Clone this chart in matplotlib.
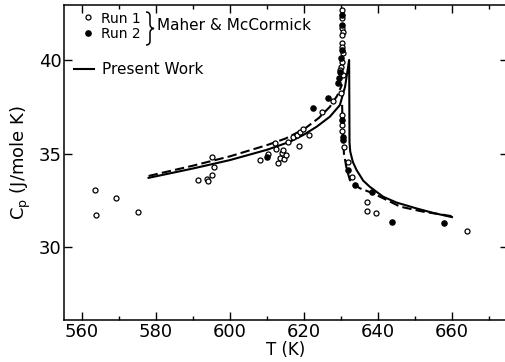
import matplotlib
matplotlib.use("Agg")
import matplotlib.pyplot as plt
from matplotlib.ticker import MultipleLocator
from matplotlib.path import Path
from matplotlib.patches import PathPatch

# Run 1 (open circles), Maher & McCormick
run1_T = [563.5, 563.7, 569.3, 575.0, 591.3, 593.7, 594.1, 595.0, 595.2, 595.8,
          608.1, 610.4, 612.2, 612.4, 613.1, 613.5, 614.0, 614.4, 614.6, 615.1,
          615.7, 617.1, 618.0, 618.9, 619.8, 618.7, 621.4, 624.8, 627.9, 629.9,
          630.2, 630.2, 630.4, 630.6, 630.4, 630.2, 630.4, 630.6, 630.4, 629.9,
          630.6, 629.6,
          630.4, 630.4, 630.4, 630.8, 631.8, 632.9,
          636.9, 636.9, 639.4, 664.1]
run1_Cp = [33.03, 31.69, 32.64, 31.85, 33.58, 33.65, 33.55, 33.85, 34.80, 34.29,
           34.65, 34.96, 35.55, 35.22, 34.47, 34.74, 35.01, 35.19, 34.69, 34.92,
           35.62, 35.90, 35.99, 36.17, 36.29, 35.40, 35.99, 37.24, 37.82, 38.25,
           42.67, 42.25, 41.71, 41.50, 41.34, 40.91, 40.70, 40.37, 39.89, 39.63,
           39.20, 39.45,
           37.06, 36.52, 36.22, 35.36, 34.53, 33.76,
           32.39, 31.91, 31.80, 30.87]

# Run 2 (filled circles)
run2_T = [610.1, 622.5, 626.6, 629.3, 629.4,
          630.2, 630.4, 630.2, 630.0, 629.8,
          630.3, 630.6, 630.6, 632.0, 633.8, 638.5, 643.9, 657.9]
run2_Cp = [34.83, 37.45, 37.98, 38.75, 39.05,
           42.41, 41.87, 40.53, 40.11, 39.36,
           36.79, 35.90, 35.72, 34.12, 33.32, 32.95, 31.34, 31.30]

# Present Work (solid)
work_T = [578.0, 590.0, 600.0, 610.0, 616.2, 619.8, 623.4, 627.0, 629.7, 631.1,
          632.2, 632.3, 632.5, 633.2, 634.2, 636.0, 637.8, 641.4, 645.0, 650.5,
          655.0, 660.0]
work_Cp = [33.70, 34.20, 34.65, 35.20, 35.63, 35.99, 36.43, 36.97, 37.59, 38.57,
           40.00, 35.60, 35.10, 34.55, 34.12, 33.55, 33.22, 32.69, 32.38, 32.06,
           31.82, 31.60]

# Maher & McCormick fit (dashed)
fit_lo_T = [578.0, 590.0, 600.0, 610.0, 615.0, 620.0, 624.0, 627.0, 629.0, 630.3]
fit_lo_Cp = [33.80, 34.35, 34.85, 35.45, 35.80, 36.30, 36.90, 37.50, 38.10, 38.70]
fit_hi_T = [630.3, 630.5, 630.8, 631.5, 632.4, 635.0, 638.7, 646.0, 652.0, 660.0]
fit_hi_Cp = [37.60, 36.00, 35.00, 34.20, 33.58, 33.15, 32.87, 32.16, 31.90, 31.65]

W, H = 505, 362
fig = plt.figure(figsize=(W / 100, H / 100), dpi=100)
ax = fig.add_axes([63.5 / W, 1 - 320 / H, 444 / W, 315 / H])

ax.plot(work_T, work_Cp, color="black", lw=1.5)
ax.plot(fit_lo_T, fit_lo_Cp, color="black", lw=1.5, dashes=(4.5, 2))
ax.plot(fit_hi_T, fit_hi_Cp, color="black", lw=1.5, dashes=(4.5, 2))
ax.plot(run1_T, run1_Cp, "o", ms=3.6, mfc="white", mec="black", mew=0.9)
ax.plot(run2_T, run2_Cp, "o", ms=3.8, mfc="black", mec="black", mew=0.9)

ax.set_xlim(555, 675)
ax.set_ylim(26.1, 42.94)
ax.xaxis.set_major_locator(MultipleLocator(20))
ax.xaxis.set_minor_locator(MultipleLocator(10))
ax.yaxis.set_major_locator(MultipleLocator(5))
ax.tick_params(axis="x", which="major", direction="in", length=6, width=1.0,
               top=True, labelsize=13, pad=2)
ax.tick_params(axis="x", which="minor", direction="in", length=3, width=1.0, top=True)
ax.tick_params(axis="y", which="major", direction="in", length=6, width=1.0,
               right=True, labelsize=13, pad=1.5)
for s in ax.spines.values():
    s.set_linewidth(1.1)

ax.set_xlabel("T (K)", fontsize=12, labelpad=0)
ax.set_ylabel("C$_\\mathregular{p}$ (J/mole K)", fontsize=13, labelpad=4)

# legend drawn by hand, as in the original
fx = lambda px: (px - 63.5) / 444
fy = lambda py: (320 - py) / 315
ax.plot([fx(87.7)], [fy(16.7)], "o", ms=3.6, mfc="white", mec="black", mew=0.9,
        transform=ax.transAxes, clip_on=False)
ax.plot([fx(87.7)], [fy(33.3)], "o", ms=3.8, mfc="black", mec="black",
        transform=ax.transAxes, clip_on=False)
ax.text(fx(101), fy(19), "Run 1", fontsize=10, va="center", transform=ax.transAxes)
ax.text(fx(101), fy(34), "Run 2", fontsize=10, va="center", transform=ax.transAxes)

# curly brace
bx = [146, 150, 150, 150, 150, 154, 150, 150, 150, 150, 146]
by = [12, 12, 16, 24, 28, 28.5, 29, 33, 41, 45, 45]
codes = [Path.MOVETO, Path.CURVE3, Path.CURVE3, Path.LINETO, Path.CURVE3, Path.CURVE3,
         Path.CURVE3, Path.CURVE3, Path.LINETO, Path.CURVE3, Path.CURVE3]
verts = [(fx(a), fy(b)) for a, b in zip(bx, by)]
ax.add_patch(PathPatch(Path(verts, codes), fill=False, lw=1.1, ec="black",
                       transform=ax.transAxes, clip_on=False))

ax.text(fx(157), fy(26), "Maher & McCormick", fontsize=11, va="center",
        transform=ax.transAxes)
ax.plot([fx(74), fx(94)], [fy(69), fy(69)], color="black", lw=1.5,
        transform=ax.transAxes)
ax.text(fx(102), fy(70), "Present Work", fontsize=11, va="center",
        transform=ax.transAxes)

fig.savefig("out.png", dpi=100)
